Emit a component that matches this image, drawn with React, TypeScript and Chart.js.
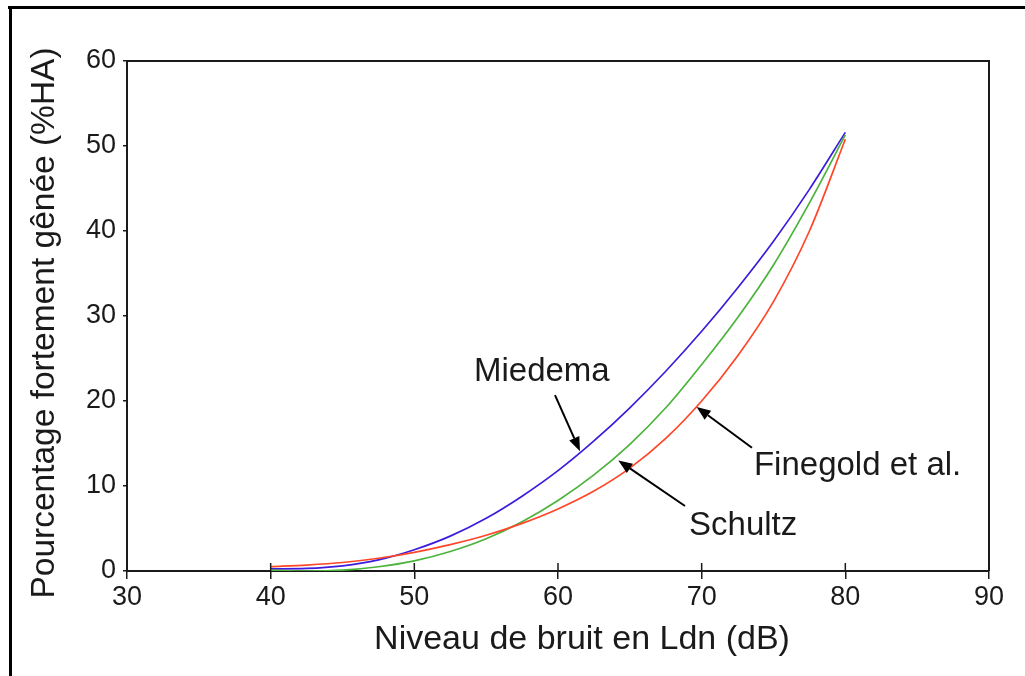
import { useEffect, useRef } from 'react';
import { Chart, registerables } from 'chart.js';

Chart.register(...registerables);

// Noise level (Ldn, dB) at which each curve is sampled
const levels = [40, 42.5, 45, 47.5, 50, 52.5, 55, 57.5, 60, 62.5, 65, 67.5, 70, 72.5, 75, 77.5, 80];

// Percentage highly annoyed (%HA) for each dose-response curve
const miedema = [0.25, 0.3, 0.6, 1.3, 2.5, 4.1, 6.2, 8.8, 11.8, 15.3, 19.2, 23.5, 28.2, 33.3, 38.8, 44.9, 51.6];
const schultz = [0.1, 0.0, 0.1, 0.5, 1.2, 2.3, 3.8, 5.8, 8.3, 11.3, 14.9, 19.2, 24.3, 29.8, 36.0, 43.3, 51.3];
const finegold = [0.5, 0.7, 1.0, 1.5, 2.2, 3.1, 4.2, 5.6, 7.3, 9.4, 12.1, 15.6, 20.0, 25.3, 31.7, 40.0, 50.8];

const xTicks = [30, 40, 50, 60, 70, 80, 90];
const yTicks = [0, 10, 20, 30, 40, 50, 60];

const xTitle = 'Niveau de bruit en Ldn (dB)';
const yTitle = 'Pourcentage fortement gênée (%HA)';

// Callout labels: text anchor (left, baseline), arrow tail and arrow tip, all in data units
const callouts = [
  { text: 'Miedema', at: [54.15, 22.35], from: [59.79, 20.7], to: [61.53, 14.1] },
  { text: 'Schultz', at: [69.12, 4.24], from: [68.84, 7.65], to: [64.2, 13.0] },
  { text: 'Finegold et al.', at: [73.64, 11.3], from: [73.5, 14.5], to: [69.65, 19.3] },
];

const FONT = '"Liberation Sans", Arial, Helvetica, sans-serif';
const INK = '#1a1a1a';

const toPoints = (ys: number[]) => levels.map((x, i) => ({ x, y: ys[i] }));

const decorations = {
  id: 'decorations',
  afterDraw(chart: any) {
    const { ctx, chartArea, scales } = chart;
    const xs = scales.x;
    const ys = scales.y;
    ctx.save();

    // outer frame (top and left edges)
    ctx.fillStyle = '#000';
    ctx.fillRect(8, 6, chart.width - 8, 3);
    ctx.fillRect(9, 6, 3, chart.height - 6);

    // top and right sides of the plot box
    ctx.strokeStyle = INK;
    ctx.lineWidth = 2;
    ctx.beginPath();
    ctx.moveTo(chartArea.left, chartArea.top);
    ctx.lineTo(chartArea.right, chartArea.top);
    ctx.lineTo(chartArea.right, chartArea.bottom);
    ctx.stroke();

    // inward half of the x-axis tick marks
    ctx.lineWidth = 1.5;
    ctx.beginPath();
    xTicks.forEach((v) => {
      const px = xs.getPixelForValue(v);
      ctx.moveTo(px, chartArea.bottom);
      ctx.lineTo(px, chartArea.bottom - 8);
    });
    ctx.stroke();

    // axis titles
    ctx.fillStyle = INK;
    ctx.textAlign = 'center';
    ctx.textBaseline = 'middle';
    ctx.font = `34px ${FONT}`;
    ctx.fillText(xTitle, 582, 640);
    ctx.save();
    ctx.translate(45, 323);
    ctx.rotate(-Math.PI / 2);
    ctx.font = `33.5px ${FONT}`;
    ctx.fillText(yTitle, 0, 0);
    ctx.restore();

    // callout labels with arrows
    ctx.font = `33px ${FONT}`;
    ctx.textBaseline = 'alphabetic';
    ctx.textAlign = 'left';
    callouts.forEach((c) => {
      ctx.fillStyle = INK;
      ctx.fillText(c.text, xs.getPixelForValue(c.at[0]), ys.getPixelForValue(c.at[1]));
      const x1 = xs.getPixelForValue(c.from[0]);
      const y1 = ys.getPixelForValue(c.from[1]);
      const x2 = xs.getPixelForValue(c.to[0]);
      const y2 = ys.getPixelForValue(c.to[1]);
      const ang = Math.atan2(y2 - y1, x2 - x1);
      const headLen = 14;
      const headHalf = 5.5;
      const bx = x2 - headLen * Math.cos(ang);
      const by = y2 - headLen * Math.sin(ang);
      ctx.strokeStyle = '#000';
      ctx.lineWidth = 2;
      ctx.beginPath();
      ctx.moveTo(x1, y1);
      ctx.lineTo(bx, by);
      ctx.stroke();
      ctx.fillStyle = '#000';
      ctx.beginPath();
      ctx.moveTo(x2, y2);
      ctx.lineTo(bx + headHalf * Math.sin(ang), by - headHalf * Math.cos(ang));
      ctx.lineTo(bx - headHalf * Math.sin(ang), by + headHalf * Math.cos(ang));
      ctx.closePath();
      ctx.fill();
    });
    ctx.restore();
  },
};

export default function App() {
  const canvasRef = useRef<HTMLCanvasElement | null>(null);

  useEffect(() => {
    document.body.style.margin = '0';
    document.body.style.background = '#fff';
    const canvas = canvasRef.current;
    if (!canvas) return;

    const line = (label: string, ys: number[], color: string) => ({
      label,
      data: toPoints(ys),
      borderColor: color,
      backgroundColor: color,
      borderWidth: 1.7,
      pointRadius: 0,
      cubicInterpolationMode: 'monotone' as const,
      fill: false,
    });

    const chart = new Chart(canvas, {
      type: 'line',
      data: {
        datasets: [
          line('Finegold et al.', finegold, '#ff4628'),
          line('Schultz', schultz, '#4cb33c'),
          line('Miedema', miedema, '#3c1cdc'),
        ],
      },
      options: {
        responsive: false,
        animation: false,
        devicePixelRatio: 1,
        layout: { padding: { left: 0, right: 36, top: 61, bottom: 0 } },
        plugins: {
          legend: { display: false },
          tooltip: { enabled: false },
        },
        scales: {
          x: {
            type: 'linear',
            min: 30,
            max: 90,
            afterBuildTicks: (s: any) => {
              s.ticks = xTicks.map((value) => ({ value }));
            },
            afterFit: (s: any) => {
              s.height = 105;
            },
            ticks: {
              font: { family: FONT, size: 27 },
              color: INK,
              padding: 2,
              maxRotation: 0,
              autoSkip: false,
            },
            grid: {
              drawOnChartArea: false,
              drawTicks: true,
              tickLength: 8,
              color: INK,
              lineWidth: 1.5,
            },
            border: { display: true, color: INK, width: 2 },
            title: { display: false, text: xTitle },
          },
          y: {
            type: 'linear',
            min: 0,
            max: 60,
            afterBuildTicks: (s: any) => {
              s.ticks = yTicks.map((value) => ({ value }));
            },
            afterFit: (s: any) => {
              s.width = 127;
            },
            ticks: {
              font: { family: FONT, size: 27 },
              color: INK,
              padding: 7,
              autoSkip: false,
            },
            grid: {
              drawOnChartArea: false,
              drawTicks: true,
              tickLength: 4,
              color: INK,
              lineWidth: 1.5,
            },
            border: { display: true, color: INK, width: 2 },
            title: { display: false, text: yTitle },
          },
        },
      },
      plugins: [decorations],
    });

    return () => chart.destroy();
  }, []);

  return (
    <div style={{ width: 1025, height: 676, background: '#fff' }}>
      <canvas ref={canvasRef} width={1025} height={676} style={{ display: 'block' }} />
    </div>
  );
}
